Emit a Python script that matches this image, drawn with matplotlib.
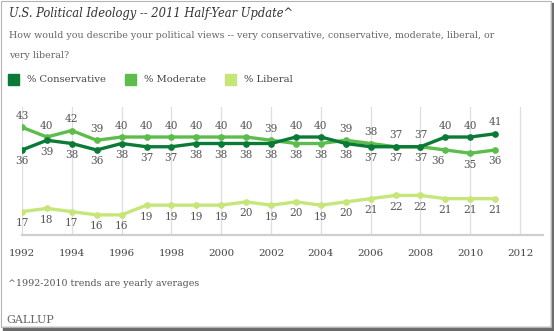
import matplotlib
matplotlib.use("Agg")
import matplotlib.pyplot as plt
from matplotlib.patches import Rectangle

years = list(range(1992, 2012))
conservative = [36, 39, 38, 36, 38, 37, 37, 38, 38, 38, 38, 40, 40, 38, 37, 37, 37, 40, 40, 41]
moderate = [43, 40, 42, 39, 40, 40, 40, 40, 40, 40, 39, 38, 38, 39, 38, 37, 37, 36, 35, 36]
liberal = [17, 18, 17, 16, 16, 19, 19, 19, 19, 20, 19, 20, 19, 20, 21, 22, 22, 21, 21, 21]
tick_years = list(range(1992, 2013, 2))

# label placement: 1 = above point, -1 = below
cons_side = [-1] * 11 + [1, 1, -1, -1, 1, 1, 1, 1, 1]
mod_side = [1] * 11 + [-1, -1, 1, 1, -1, -1, -1, -1, -1]
lib_side = [-1] * 20

c_cons = "#0b7a37"
c_mod = "#5dbd4c"
c_lib = "#c6e67a"

plt.rcParams["font.family"] = ["DejaVu Serif"]

W, H = 554, 331
fig = plt.figure(figsize=(W / 100, H / 100), dpi=100)
fig.patch.set_facecolor("white")

ax = fig.add_axes([22 / W, 1 - 235 / H, (543 - 22) / W, (235 - 107) / H])
ax.set_xlim(1992, 2012.92)
ax.set_ylim(9.8, 49.25)
for s in ["left", "right", "top"]:
    ax.spines[s].set_visible(False)
ax.spines["bottom"].set_color("#cfcfcf")
ax.spines["bottom"].set_linewidth(1.6)
ax.set_yticks([])
ax.set_xticks(tick_years)
ax.set_xticklabels([str(y) for y in tick_years], fontsize=7.4, color="#444444")
ax.tick_params(axis="x", length=0, pad=10)
for y in tick_years:
    ax.axvline(y, color="#dedede", lw=0.9, zorder=0)

for vals, col, side in [(liberal, c_lib, lib_side), (moderate, c_mod, mod_side),
                        (conservative, c_cons, cons_side)]:
    ax.plot(years, vals, color=col, lw=2.4, marker="o", ms=3.8, zorder=3)
    for x, v, s in zip(years, vals, side):
        dx = -7 if (col == c_mod and x == 2009) else 0
        dy = 11.5 if s > 0 else -11.5
        ax.annotate(str(v), (x, v), xytext=(dx, dy), textcoords="offset pixels",
                    ha="center", va="center", fontsize=7.6, color="#555555")

fig.text(9 / W, 1 - 13 / H, "U.S. Political Ideology -- 2011 Half-Year Update^",
         fontsize=8.3, style="italic", color="#333333", va="center")
fig.text(9 / W, 1 - 35 / H,
         "How would you describe your political views -- very conservative, conservative, moderate, liberal, or",
         fontsize=6.8, color="#666666", va="center")
fig.text(9 / W, 1 - 55 / H, "very liberal?", fontsize=6.8, color="#666666", va="center")

for x0, col, lab in [(8, c_cons, "% Conservative"), (125, c_mod, "% Moderate"),
                     (225, c_lib, "% Liberal")]:
    fig.patches.append(Rectangle((x0 / W, 1 - 85 / H), 11 / W, 11 / H, color=col,
                                 transform=fig.transFigure))
    fig.text((x0 + 19) / W, 1 - 79 / H, lab, fontsize=7.2, color="#444444", va="center")

fig.text(8 / W, 1 - 284 / H, "^1992-2010 trends are yearly averages",
         fontsize=6.8, color="#555555", va="center")
fig.text(6 / W, 1 - 320 / H, "GALLUP", fontsize=8, color="#666666", va="center")

# frame with shadow
fig.patches.append(Rectangle((551 / W, 0), 3 / W, 1 - 3 / H, color="#6a6a6a",
                             transform=fig.transFigure))
fig.patches.append(Rectangle((3 / W, 0), 551 / W, 4 / H, color="#6a6a6a",
                             transform=fig.transFigure))
fig.patches.append(Rectangle((0.5 / W, 4 / H), 550 / W, (H - 5) / H, fill=False,
                             ec="#b5b5b5", lw=0.8, transform=fig.transFigure))

fig.savefig("out.png", dpi=100)
